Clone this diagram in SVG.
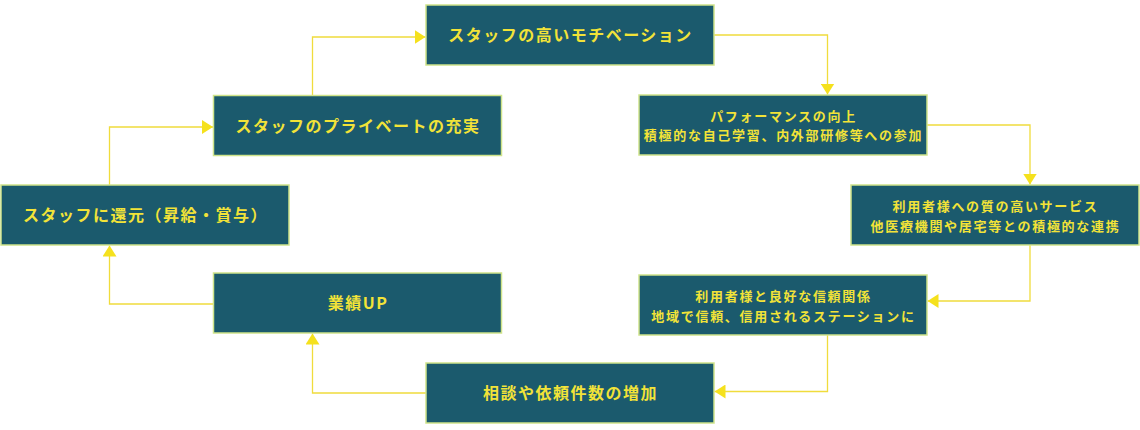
<svg xmlns="http://www.w3.org/2000/svg" width="1140" height="430" viewBox="0 0 1140 430">
  <style>
    .box { fill: #1b5a6d; stroke: #cfe48a; stroke-width: 1.5; }
    .t1 { font-family: "Noto Sans CJK JP", "Noto Sans", sans-serif; font-weight: bold; font-size: 16px; letter-spacing: 1.5px; fill: #f2e338; text-anchor: middle; dominant-baseline: central; }
    .t2 { font-family: "Noto Sans CJK JP", "Noto Sans", sans-serif; font-weight: bold; font-size: 13px; letter-spacing: 1.7px; fill: #f2e338; text-anchor: middle; dominant-baseline: central; }
    .conn { fill: none; stroke: #f0dc3c; stroke-width: 1.3; }
  </style>
  <defs>
    <marker id="arr" viewBox="0 0 11 14" refX="11" refY="7" markerWidth="11" markerHeight="14" markerUnits="userSpaceOnUse" orient="auto">
      <path d="M0,0 L11,7 L0,14 Z" fill="#f5e11d"/>
    </marker>
  </defs>
  <g id="connectors">
    <path class="conn" d="M714,35 H827.5 V94.5" marker-end="url(#arr)"/>
    <path class="conn" d="M927,125 H1030 V184.5" marker-end="url(#arr)"/>
    <path class="conn" d="M1030,245 V301 H927.5" marker-end="url(#arr)"/>
    <path class="conn" d="M827.5,335 V391.5 H714.5" marker-end="url(#arr)"/>
    <path class="conn" d="M426,393 H312.5 V333.5" marker-end="url(#arr)"/>
    <path class="conn" d="M213.5,304 H109.5 V245.5" marker-end="url(#arr)"/>
    <path class="conn" d="M109.5,185 V127 H213" marker-end="url(#arr)"/>
    <path class="conn" d="M312.5,95.5 V37 H425.5" marker-end="url(#arr)"/>
  </g>
  <g id="n1">
    <rect class="box" x="426" y="5" width="288" height="60"/>
    <text class="t1" x="570.5" y="34">スタッフの高いモチベーション</text>
  </g>
  <g id="n2">
    <rect class="box" x="639" y="95" width="288" height="60"/>
    <text class="t2" x="783.5" y="115.5">パフォーマンスの向上</text>
    <text class="t2" x="783.5" y="134.5">積極的な自己学習、内外部研修等への参加</text>
  </g>
  <g id="n3">
    <rect class="box" x="851" y="185" width="288" height="60"/>
    <text class="t2" x="995.5" y="205">利用者様への質の高いサービス</text>
    <text class="t2" x="995.5" y="225">他医療機関や居宅等との積極的な連携</text>
  </g>
  <g id="n4">
    <rect class="box" x="639" y="275" width="288" height="60"/>
    <text class="t2" x="783.5" y="295">利用者様と良好な信頼関係</text>
    <text class="t2" x="783.5" y="315">地域で信頼、信用されるステーションに</text>
  </g>
  <g id="n5">
    <rect class="box" x="426" y="363" width="288" height="60"/>
    <text class="t1" x="570.5" y="392">相談や依頼件数の増加</text>
  </g>
  <g id="n6">
    <rect class="box" x="213.5" y="273" width="288" height="60"/>
    <text class="t1" x="358" y="302">業績UP</text>
  </g>
  <g id="n7">
    <rect class="box" x="1" y="185" width="288" height="60"/>
    <text class="t1" x="145.5" y="214">スタッフに還元（昇給・賞与）</text>
  </g>
  <g id="n8">
    <rect class="box" x="213.5" y="95.5" width="288" height="60"/>
    <text class="t1" x="358" y="124.5">スタッフのプライベートの充実</text>
  </g>
</svg>
